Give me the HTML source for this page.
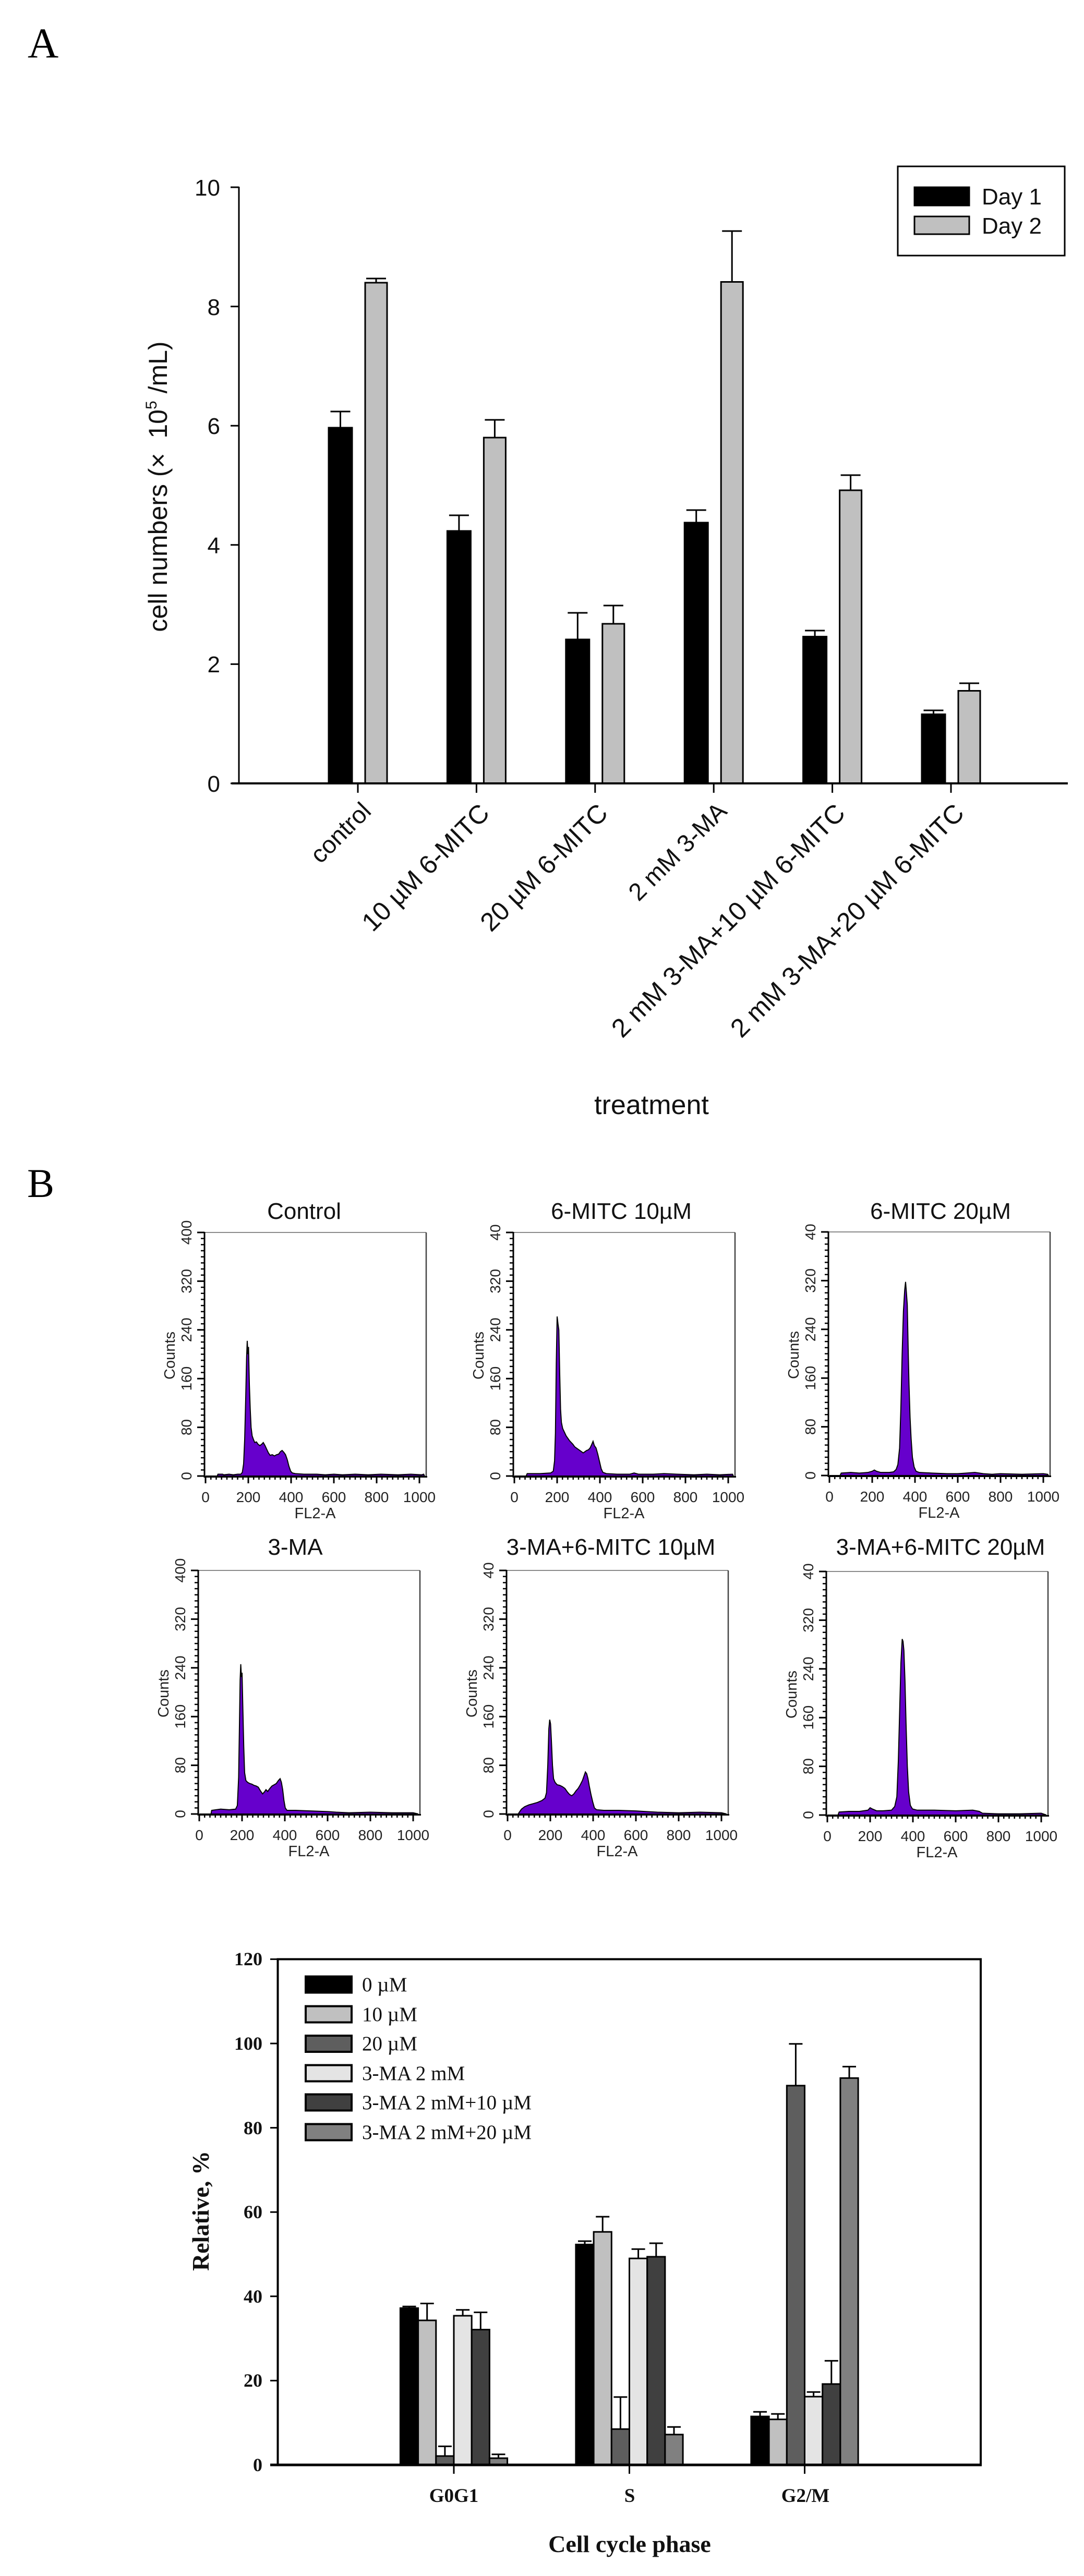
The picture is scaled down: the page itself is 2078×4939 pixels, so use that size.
<!DOCTYPE html>
<html><head><meta charset="utf-8"><style>
html,body{margin:0;padding:0;background:#fff;}
svg{display:block;}
.sans{font-family:"Liberation Sans",Arial,sans-serif;}
.serif{font-family:"Liberation Serif","Times New Roman",serif;}
</style></head><body>
<svg width="2078" height="4939" viewBox="0 0 2078 4939" xmlns="http://www.w3.org/2000/svg">
<rect width="2078" height="4939" fill="#fff"/>
<defs>
<g id="hax">
  <path d="M0,0 H425" stroke="#8a8a8a" stroke-width="2" fill="none"/>
  <path d="M425,0 V467" stroke="#444" stroke-width="2.5" fill="none"/>
  <path d="M0,-1 V468.5 H427" stroke="#000" stroke-width="3" fill="none"/>
  <line x1="-3.5" y1="468.25" x2="-3.5" y2="-2" stroke="#000" stroke-width="7" stroke-dasharray="2.5 9.175"/>
  <path d="M-14,467h14M-14,373.6h14M-14,280.2h14M-14,186.8h14M-14,93.4h14M-14,0h14" stroke="#000" stroke-width="3"/>
  <line x1="0.75" y1="470.5" x2="414" y2="470.5" stroke="#000" stroke-width="7" stroke-dasharray="2.5 7.75"/>
  <path d="M2,467v14M84,467v14M166,467v14M248,467v14M330,467v14M412,467v14" stroke="#000" stroke-width="3"/>
  <g class="sans" font-size="28" text-anchor="middle" fill="#222">
    <text x="2" y="517">0</text><text x="84" y="517">200</text><text x="166" y="517">400</text>
    <text x="248" y="517">600</text><text x="330" y="517">800</text><text x="412" y="517">1000</text>
    <text x="212" y="548" font-size="29">FL2-A</text>
    <text transform="translate(-25,467) rotate(-90)">0</text>
    <text transform="translate(-25,373.6) rotate(-90)">80</text>
    <text transform="translate(-25,280.2) rotate(-90)">160</text>
    <text transform="translate(-25,186.8) rotate(-90)">240</text>
    <text transform="translate(-25,93.4) rotate(-90)">320</text>
    <text transform="translate(-57,236) rotate(-90)" font-size="29">Counts</text>
  </g>
</g>
</defs>

<!-- ============ PANEL A ============ -->
<text x="53" y="110" class="serif" font-size="82">A</text>

<!-- bars -->
<g stroke="#000" stroke-width="3">
  <!-- control c=686 -->
  <rect x="630" y="820" width="45" height="682" fill="#000"/>
  <rect x="700" y="542" width="42" height="960" fill="#c0c0c0"/>
  <!-- 10 c=913.4 -->
  <rect x="857.4" y="1018" width="45" height="484" fill="#000"/>
  <rect x="927.4" y="839" width="42" height="663" fill="#c0c0c0"/>
  <!-- 20 c=1140.8 -->
  <rect x="1084.8" y="1226" width="45" height="276" fill="#000"/>
  <rect x="1154.8" y="1196" width="42" height="306" fill="#c0c0c0"/>
  <!-- 3MA c=1368.2 -->
  <rect x="1312.2" y="1002" width="45" height="500" fill="#000"/>
  <rect x="1382.2" y="540.5" width="42" height="961.5" fill="#c0c0c0"/>
  <!-- 3MA+10 c=1595.6 -->
  <rect x="1539.6" y="1220.6" width="45" height="281.4" fill="#000"/>
  <rect x="1609.6" y="940" width="42" height="562" fill="#c0c0c0"/>
  <!-- 3MA+20 c=1823 -->
  <rect x="1767" y="1369.5" width="45" height="132.5" fill="#000"/>
  <rect x="1837" y="1324.5" width="42" height="177.5" fill="#c0c0c0"/>
</g>
<!-- error bars -->
<g stroke="#000" stroke-width="3" fill="none">
  <path d="M652.5,820V789M633.5,789h38"/>
  <path d="M721,542V534M702,534h38"/>
  <path d="M879.9,1018V988M860.9,988h38"/>
  <path d="M948.4,839V805M929.4,805h38"/>
  <path d="M1107.3,1226V1175M1088.3,1175h38"/>
  <path d="M1175.8,1196V1161M1156.8,1161h38"/>
  <path d="M1334.7,1002V978M1315.7,978h38"/>
  <path d="M1403.2,540.5V443M1384.2,443h38"/>
  <path d="M1562.1,1220.6V1209M1543.1,1209h38"/>
  <path d="M1630.6,940V911M1611.6,911h38"/>
  <path d="M1789.5,1369.5V1362M1770.5,1362h38"/>
  <path d="M1858,1324.5V1310M1839,1310h38"/>
</g>
<!-- axes -->
<path d="M458,358 V1502" stroke="#000" stroke-width="3" fill="none"/>
<path d="M444,1502 H2047" stroke="#000" stroke-width="4" fill="none"/>
<path d="M442,1502h16M442,1273.4h16M442,1044.8h16M442,816.2h16M442,587.6h16M442,359h16" stroke="#000" stroke-width="3"/>
<path d="M686,1502v18M913.4,1502v18M1140.8,1502v18M1368.2,1502v18M1595.6,1502v18M1823,1502v18" stroke="#000" stroke-width="3"/>
<g class="sans" font-size="44" text-anchor="end" fill="#111">
  <text x="422" y="1518">0</text>
  <text x="422" y="1289">2</text>
  <text x="422" y="1061">4</text>
  <text x="422" y="832">6</text>
  <text x="422" y="604">8</text>
  <text x="422" y="375">10</text>
</g>
<text class="sans" font-size="50" fill="#111" text-anchor="middle" transform="translate(320,933) rotate(-90)">cell numbers (×&#160; 10<tspan dy="-20" font-size="30">5</tspan><tspan dy="20"> /mL)</tspan></text>
<!-- x labels -->
<g class="sans" fill="#111" text-anchor="end">
  <text font-size="47" transform="translate(714,1558) rotate(-45)">control</text>
  <text font-size="50" transform="translate(941,1562) rotate(-45)">10 µM 6-MITC</text>
  <text font-size="50" transform="translate(1168,1562) rotate(-45)">20 µM 6-MITC</text>
  <text font-size="47" transform="translate(1396,1558) rotate(-45)">2 mM 3-MA</text>
  <text font-size="50" transform="translate(1623,1562) rotate(-45)">2 mM 3-MA+10 µM 6-MITC</text>
  <text font-size="50" transform="translate(1851,1562) rotate(-45)">2 mM 3-MA+20 µM 6-MITC</text>
</g>
<text x="1249" y="2136" class="sans" font-size="52" text-anchor="middle" fill="#111">treatment</text>
<!-- legend -->
<rect x="1721" y="319" width="320" height="171" fill="#fff" stroke="#000" stroke-width="3"/>
<rect x="1753" y="359" width="105" height="35" fill="#000" stroke="#000" stroke-width="3"/>
<rect x="1753" y="415" width="105" height="34" fill="#c0c0c0" stroke="#000" stroke-width="3"/>
<text x="1882" y="392" class="sans" font-size="44" fill="#111">Day 1</text>
<text x="1882" y="448" class="sans" font-size="44" fill="#111">Day 2</text>

<!-- ============ PANEL B ============ -->
<text x="52" y="2295" class="serif" font-size="78">B</text>

<g class="sans" fill="#111" font-size="44" text-anchor="middle">
  <text x="583" y="2337">Control</text>
  <text x="1191" y="2337">6-MITC 10µM</text>
  <text x="1803" y="2337">6-MITC 20µM</text>
  <text x="566" y="2981">3-MA</text>
  <text x="1171" y="2981">3-MA+6-MITC 10µM</text>
  <text x="1803" y="2981">3-MA+6-MITC 20µM</text>
</g>

<!-- R1C1 Control -->
<g transform="translate(392,2363)">
  <path transform="translate(2,467) scale(0.41,-1.1675)" fill="#6600cc" stroke="#000" stroke-width="2" vector-effect="non-scaling-stroke" stroke-linejoin="miter"
   d="M0,0 L55,0 58,3 80,3 85,2 110,3 130,2 150,3 165,3 172,6 178,20 183,60 188,130 192,195 195,222 198,200 201,212 205,150 209,110 213,80 218,66 224,60 230,55 238,56 246,52 254,50 262,52 270,55 278,50 286,44 294,38 302,34 312,35 322,33 332,35 342,36 350,40 358,42 366,39 374,35 382,27 390,16 398,8 406,5 420,4 460,3 520,3 560,2 600,3 640,2 700,3 760,2 820,3 900,2 960,3 1010,2 1020,3 1024,0 Z"/>
  <use href="#hax"/>
  <text class="sans" font-size="28" fill="#222" text-anchor="middle" transform="translate(-25,0) rotate(-90)">400</text>
</g>
<!-- R1C2 -->
<g transform="translate(984,2363)">
  <path transform="translate(2,467) scale(0.41,-1.1675)" fill="#6600cc" stroke="#000" stroke-width="2" vector-effect="non-scaling-stroke"
   d="M0,0 L55,0 60,4 120,4 170,5 182,8 188,25 192,70 196,185 200,262 204,250 208,240 212,170 216,110 220,88 226,78 234,72 242,66 250,62 258,58 266,55 274,52 282,48 290,46 298,44 306,42 314,40 322,38 330,40 338,42 346,43 354,46 362,52 368,57 374,50 382,46 390,36 398,24 406,12 414,6 430,4 480,3 540,3 560,5 580,3 650,3 700,4 760,3 840,2 900,3 960,2 1020,3 1024,0 Z"/>
  <use href="#hax"/>
  <text class="sans" font-size="28" fill="#222" text-anchor="middle" transform="translate(-25,0) rotate(-90)">40</text>
</g>
<!-- R1C3 -->
<g transform="translate(1588,2362)">
  <path transform="translate(2,467) scale(0.41,-1.1675)" fill="#6600cc" stroke="#000" stroke-width="2" vector-effect="non-scaling-stroke"
   d="M0,0 L50,0 55,4 100,5 140,4 180,5 200,7 210,9 220,7 240,5 280,5 300,6 312,10 320,18 328,45 334,110 340,200 346,270 352,305 356,318 360,300 364,280 368,210 372,150 377,95 382,60 388,30 396,14 405,7 420,5 480,4 550,3 600,3 640,4 680,5 720,3 760,2 800,3 900,2 1000,3 1020,2 1024,0 Z"/>
  <use href="#hax"/>
  <text class="sans" font-size="28" fill="#222" text-anchor="middle" transform="translate(-25,0) rotate(-90)">40</text>
</g>
<!-- R2C1 -->
<g transform="translate(380,3011)">
  <path transform="translate(2,467) scale(0.41,-1.1675)" fill="#6600cc" stroke="#000" stroke-width="2" vector-effect="non-scaling-stroke"
   d="M0,0 L55,0 58,6 100,8 140,7 170,8 178,14 184,60 188,150 191,220 194,246 197,225 200,232 204,170 208,110 212,68 218,55 226,52 236,50 246,49 256,47 266,46 276,44 286,38 296,33 304,36 312,40 320,37 330,42 340,46 350,48 360,50 370,55 378,58 384,52 390,40 396,22 402,10 410,6 450,6 520,5 600,4 640,3 700,2 800,3 900,2 1000,2 1024,0 Z"/>
  <use href="#hax"/>
  <text class="sans" font-size="28" fill="#222" text-anchor="middle" transform="translate(-25,0) rotate(-90)">400</text>
</g>
<!-- R2C2 -->
<g transform="translate(971,3011)">
  <path transform="translate(2,467) scale(0.41,-1.1675)" fill="#6600cc" stroke="#000" stroke-width="2" vector-effect="non-scaling-stroke"
   d="M0,0 L50,0 55,3 65,8 80,12 100,15 120,17 140,19 160,22 175,26 182,35 188,80 193,140 197,155 201,148 205,120 210,80 215,58 222,52 232,48 244,47 256,45 268,42 280,36 290,32 300,30 310,33 320,38 330,42 340,48 350,55 358,63 364,69 370,66 376,58 382,46 390,32 398,20 406,10 416,7 450,6 520,6 600,5 650,4 700,3 800,2 900,3 1000,2 1024,0 Z"/>
  <use href="#hax"/>
  <text class="sans" font-size="28" fill="#222" text-anchor="middle" transform="translate(-25,0) rotate(-90)">40</text>
</g>
<!-- R2C3 -->
<g transform="translate(1584,3013)">
  <path transform="translate(2,467) scale(0.41,-1.1675)" fill="#6600cc" stroke="#000" stroke-width="2" vector-effect="non-scaling-stroke"
   d="M0,0 L50,0 55,5 100,6 150,6 190,8 200,12 210,10 230,7 260,7 300,8 315,14 325,30 332,90 338,170 344,250 350,289 354,285 358,270 363,220 368,150 374,80 380,38 388,16 398,10 420,8 500,8 600,7 680,8 710,6 725,3 800,2 900,2 1000,3 1024,0 Z"/>
  <use href="#hax"/>
  <text class="sans" font-size="28" fill="#222" text-anchor="middle" transform="translate(-25,0) rotate(-90)">40</text>
</g>

<!-- ============ PANEL C ============ -->
<!-- bars -->
<g stroke="#000" stroke-width="3">
  <!-- G0G1 -->
  <rect x="767.4" y="4425.4" width="34.2" height="300.6" fill="#000"/>
  <rect x="801.6" y="4448.9" width="34.2" height="277.1" fill="#c0c0c0"/>
  <rect x="835.8" y="4709" width="34.2" height="17" fill="#5e5e5e"/>
  <rect x="870" y="4440" width="34.2" height="286" fill="#e4e4e4"/>
  <rect x="904.2" y="4466.6" width="34.2" height="259.4" fill="#404040"/>
  <rect x="938.4" y="4713.1" width="34.2" height="12.9" fill="#808080"/>
  <!-- S -->
  <rect x="1103.9" y="4303.4" width="34.2" height="422.6" fill="#000"/>
  <rect x="1138.1" y="4279.2" width="34.2" height="446.8" fill="#c0c0c0"/>
  <rect x="1172.3" y="4657.3" width="34.2" height="68.7" fill="#5e5e5e"/>
  <rect x="1206.5" y="4330.1" width="34.2" height="395.9" fill="#e4e4e4"/>
  <rect x="1240.7" y="4326.9" width="34.2" height="399.1" fill="#404040"/>
  <rect x="1274.9" y="4667.8" width="34.2" height="58.2" fill="#808080"/>
  <!-- G2/M -->
  <rect x="1439.9" y="4633.1" width="34.2" height="92.9" fill="#000"/>
  <rect x="1474.1" y="4638.7" width="34.2" height="87.3" fill="#c0c0c0"/>
  <rect x="1508.3" y="3998.8" width="34.2" height="727.2" fill="#5e5e5e"/>
  <rect x="1542.5" y="4595.1" width="34.2" height="130.9" fill="#e4e4e4"/>
  <rect x="1576.7" y="4570.9" width="34.2" height="155.1" fill="#404040"/>
  <rect x="1610.9" y="3984.3" width="34.2" height="741.7" fill="#808080"/>
</g>
<g stroke="#000" stroke-width="3" fill="none">
  <path d="M784.5,4425.4V4422.2M771.5,4422.2h26"/>
  <path d="M818.7,4448.9V4416.5M805.7,4416.5h26"/>
  <path d="M852.9,4709V4690.4M839.9,4690.4h26"/>
  <path d="M887.1,4440V4428.7M874.1,4428.7h26"/>
  <path d="M921.3,4466.6V4433.5M908.3,4433.5h26"/>
  <path d="M955.5,4713.1V4705.8M942.5,4705.8h26"/>
  <path d="M1121,4303.4V4297M1108,4297h26"/>
  <path d="M1155.2,4279.2V4250.1M1142.2,4250.1h26"/>
  <path d="M1189.4,4657.3V4595.9M1176.4,4595.9h26"/>
  <path d="M1223.6,4330.1V4312.3M1210.6,4312.3h26"/>
  <path d="M1257.8,4326.9V4301M1244.8,4301h26"/>
  <path d="M1292,4667.8V4653.3M1279,4653.3h26"/>
  <path d="M1457,4633.1V4624.2M1444,4624.2h26"/>
  <path d="M1491.2,4638.7V4628.2M1478.2,4628.2h26"/>
  <path d="M1525.4,3998.8V3918.8M1512.4,3918.8h26"/>
  <path d="M1559.6,4595.1V4586.2M1546.6,4586.2h26"/>
  <path d="M1593.8,4570.9V4526.4M1580.8,4526.4h26"/>
  <path d="M1628,3984.3V3962.4M1615,3962.4h26"/>
</g>
<!-- frame -->
<rect x="532.5" y="3756.4" width="1347.5" height="969.6" fill="none" stroke="#000" stroke-width="4"/>
<path d="M518,4726 H1882" stroke="#000" stroke-width="5"/>
<path d="M518,4564.4h14M518,4402.8h14M518,4241.2h14M518,4079.6h14M518,3918h14M518,3756.4h14" stroke="#000" stroke-width="3"/>
<path d="M870,4726v17M1206.5,4726v17M1542.5,4726v17" stroke="#000" stroke-width="3"/>
<g class="serif" font-weight="bold" font-size="36" text-anchor="end" fill="#111">
  <text x="503" y="4738">0</text>
  <text x="503" y="4576">20</text>
  <text x="503" y="4415">40</text>
  <text x="503" y="4253">60</text>
  <text x="503" y="4092">80</text>
  <text x="503" y="3930">100</text>
  <text x="503" y="3768">120</text>
</g>
<g class="serif" font-weight="bold" font-size="37" text-anchor="middle" fill="#111">
  <text x="870" y="4797">G0G1</text>
  <text x="1207" y="4797">S</text>
  <text x="1544" y="4797">G2/M</text>
</g>
<text x="1207" y="4893" class="serif" font-weight="bold" font-size="46" text-anchor="middle" fill="#111">Cell cycle phase</text>
<text class="serif" font-weight="bold" font-size="46" text-anchor="middle" fill="#111" transform="translate(400,4239) rotate(-90)">Relative, %</text>
<!-- legend -->
<g stroke="#000" stroke-width="4">
  <rect x="586" y="3789.5" width="88" height="31" fill="#000"/>
  <rect x="586" y="3846.5" width="88" height="31" fill="#c0c0c0"/>
  <rect x="586" y="3903" width="88" height="31" fill="#5e5e5e"/>
  <rect x="586" y="3959.5" width="88" height="31" fill="#e4e4e4"/>
  <rect x="586" y="4015.5" width="88" height="31" fill="#404040"/>
  <rect x="586" y="4072.5" width="88" height="31" fill="#808080"/>
</g>
<g class="serif" font-size="39" fill="#111">
  <text x="694" y="3818">0 µM</text>
  <text x="694" y="3875">10 µM</text>
  <text x="694" y="3931">20 µM</text>
  <text x="694" y="3988">3-MA 2 mM</text>
  <text x="694" y="4044">3-MA 2 mM+10 µM</text>
  <text x="694" y="4101">3-MA 2 mM+20 µM</text>
</g>
</svg>
</body></html>
